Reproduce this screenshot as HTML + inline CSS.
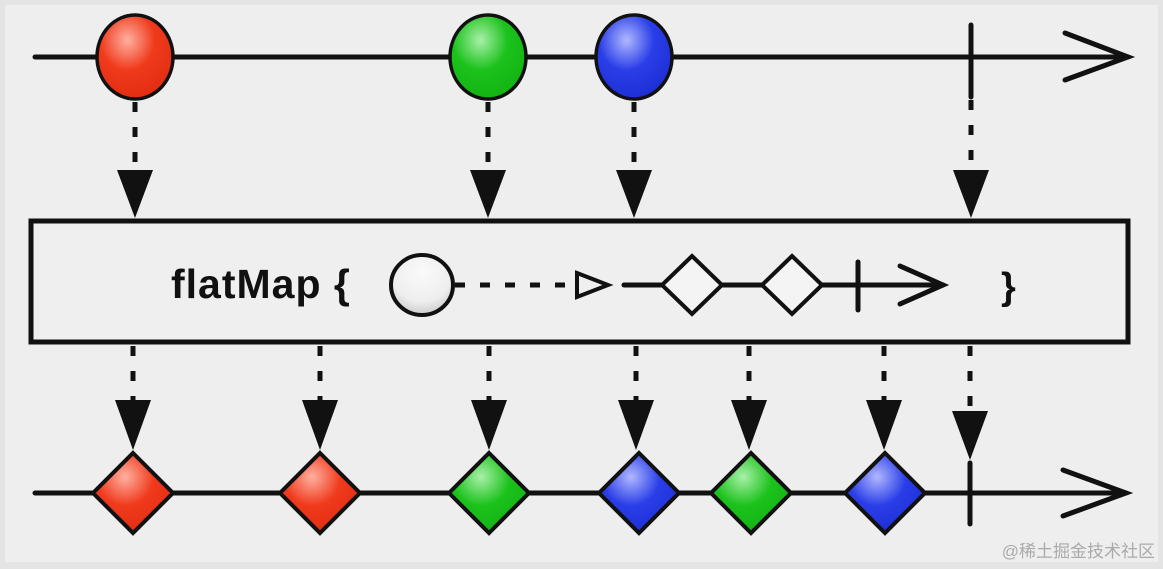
<!DOCTYPE html>
<html><head><meta charset="utf-8"><style>
html,body{margin:0;padding:0;background:#ececec;}
svg{display:block}
</style></head><body>
<svg width="1163" height="569" viewBox="0 0 1163 569" xmlns="http://www.w3.org/2000/svg">
<defs>
<radialGradient id="gr" cx="0.4" cy="0.3" r="0.8"><stop offset="0" stop-color="#ffb0a0"/><stop offset="0.45" stop-color="#f03a1c"/><stop offset="1" stop-color="#e02a10"/></radialGradient>
<radialGradient id="gg" cx="0.4" cy="0.3" r="0.8"><stop offset="0" stop-color="#a8f0a8"/><stop offset="0.45" stop-color="#1cc21c"/><stop offset="1" stop-color="#10b010"/></radialGradient>
<radialGradient id="gb" cx="0.4" cy="0.3" r="0.8"><stop offset="0" stop-color="#b0b8ff"/><stop offset="0.45" stop-color="#2a3ee8"/><stop offset="1" stop-color="#1a2ad0"/></radialGradient>
<radialGradient id="gw" cx="0.5" cy="0.3" r="0.8"><stop offset="0" stop-color="#fafafa"/><stop offset="0.6" stop-color="#eeeeee"/><stop offset="1" stop-color="#bbbbbb"/></radialGradient>
</defs>
<rect x="0" y="0" width="1163" height="569" fill="#e4e4e4"/>
<rect x="5" y="5" width="1153" height="557" fill="#eeeeee"/>
<g stroke="#111" stroke-width="5" fill="none" stroke-linecap="round">
<line x1="35" y1="57" x2="1128" y2="57"/>
<polyline points="1065,33 1128,57 1065,80"/>
<line x1="971" y1="25" x2="971" y2="97"/>
<line x1="35" y1="493" x2="1126" y2="493"/>
<polyline points="1063,470 1126,493 1063,516"/>
<line x1="970" y1="463" x2="970" y2="524"/>
</g>
<g stroke="#111" stroke-width="3.5">
<ellipse cx="135" cy="57" rx="38" ry="42" fill="url(#gr)"/>
<ellipse cx="488" cy="57" rx="38" ry="42" fill="url(#gg)"/>
<ellipse cx="634" cy="57" rx="38" ry="42" fill="url(#gb)"/>
</g>
<g stroke="#111" stroke-width="5" stroke-dasharray="10,15">
<line x1="135" y1="102" x2="135" y2="172"/>
<line x1="488" y1="102" x2="488" y2="172"/>
<line x1="634" y1="102" x2="634" y2="172"/>
<line x1="971" y1="100" x2="971" y2="172"/>
</g>
<g fill="#111">
<polygon points="117,170 153,170 135,218"/>
<polygon points="470,170 506,170 488,218"/>
<polygon points="616,170 652,170 634,218"/>
<polygon points="953,170 989,170 971,218"/>
</g>
<rect x="31" y="221" width="1097" height="121" fill="#efefef" stroke="#111" stroke-width="5"/>
<text x="171" y="298" font-family="Liberation Sans, sans-serif" font-weight="bold" font-size="41" letter-spacing="1" fill="#111">flatMap {</text>
<text x="1001" y="299" font-family="Liberation Sans, sans-serif" font-weight="bold" font-size="38" fill="#111">}</text>
<ellipse cx="422" cy="285" rx="31" ry="30" fill="url(#gw)" stroke="#111" stroke-width="4"/>
<line x1="455" y1="285" x2="575" y2="285" stroke="#111" stroke-width="5" stroke-dasharray="10,15"/>
<polygon points="577,273 608,285 577,297" fill="none" stroke="#111" stroke-width="4"/>
<g stroke="#111" stroke-width="5" fill="none" stroke-linecap="round">
<line x1="624" y1="285" x2="943" y2="285"/>
<polyline points="900,266 943,285 900,304"/>
<line x1="858" y1="262" x2="858" y2="310"/>
</g>
<g stroke="#111" stroke-width="4" fill="#f4f4f4">
<polygon points="692,256 722,285 692,314 662,285"/>
<polygon points="792,256 822,285 792,314 762,285"/>
</g>
<g stroke="#111" stroke-width="5" stroke-dasharray="10,15">
<line x1="133" y1="346" x2="133" y2="402"/>
<line x1="320" y1="346" x2="320" y2="402"/>
<line x1="489" y1="346" x2="489" y2="402"/>
<line x1="636" y1="346" x2="636" y2="402"/>
<line x1="749" y1="346" x2="749" y2="402"/>
<line x1="884" y1="346" x2="884" y2="402"/>
<line x1="970" y1="346" x2="970" y2="412"/>
</g>
<g fill="#111">
<polygon points="115,400 151,400 133,450"/>
<polygon points="302,400 338,400 320,450"/>
<polygon points="471,400 507,400 489,450"/>
<polygon points="618,400 654,400 636,450"/>
<polygon points="731,400 767,400 749,450"/>
<polygon points="866,400 902,400 884,450"/>
<polygon points="952,411 988,411 970,460"/>
</g>
<g stroke="#111" stroke-width="4">
<polygon points="133,453 173,493 133,533 93,493" fill="url(#gr)"/>
<polygon points="320,453 360,493 320,533 280,493" fill="url(#gr)"/>
<polygon points="489,453 529,493 489,533 449,493" fill="url(#gg)"/>
<polygon points="639,453 679,493 639,533 599,493" fill="url(#gb)"/>
<polygon points="751,453 791,493 751,533 711,493" fill="url(#gg)"/>
<polygon points="885,453 925,493 885,533 845,493" fill="url(#gb)"/>
</g>
<text x="1155" y="557" text-anchor="end" font-family="Liberation Sans, Noto Sans CJK SC, sans-serif" font-size="17" fill="#aaa">@稀土掘金技术社区</text>
</svg>
</body></html>
